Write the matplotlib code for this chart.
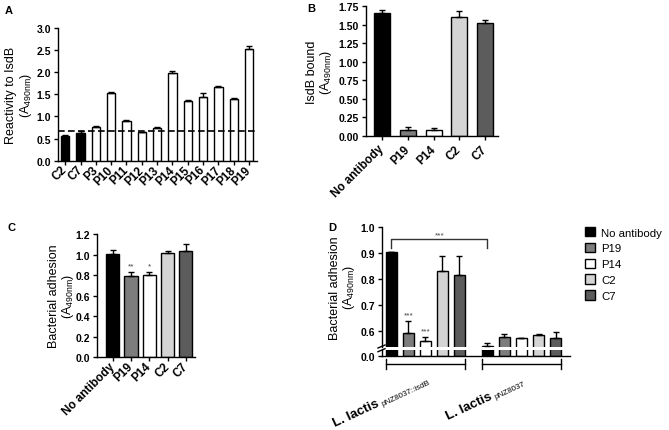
import numpy as np
import matplotlib.pyplot as plt
from matplotlib import transforms
from matplotlib.lines import Line2D

plt.rcParams['font.family'] = ['Liberation Sans', 'DejaVu Sans']
plt.rcParams['mathtext.fontset'] = 'custom'
plt.rcParams['mathtext.rm'] = 'Liberation Sans'
plt.rcParams['mathtext.bf'] = 'Liberation Sans:bold'
plt.rcParams['mathtext.it'] = 'Liberation Sans:italic'

# panel A - reactivity of each clone to IsdB
a_labels = ['C2', 'C7', 'P3', 'P10', 'P11', 'P12', 'P13', 'P14', 'P15', 'P16', 'P17', 'P18', 'P19']
a_values = [0.55, 0.63, 0.76, 1.53, 0.90, 0.64, 0.74, 1.97, 1.34, 1.43, 1.67, 1.39, 2.53]
a_errors = [0.02, 0.03, 0.02, 0.02, 0.01, 0.01, 0.03, 0.05, 0.04, 0.09, 0.02, 0.03, 0.05]
a_cutoff = 0.66

# panels B, C, D share the same antibody order
ab_labels = ['No antibody', 'P19', 'P14', 'C2', 'C7']
ab_colors = ['black', '#7d7d7d', 'white', '#d4d4d4', '#5c5c5c']

b_values = [1.656, 0.08, 0.075, 1.61, 1.525]
b_errors = [0.045, 0.038, 0.025, 0.07, 0.045]

c_values = [1.01, 0.795, 0.80, 1.018, 1.03]
c_errors = [0.037, 0.038, 0.035, 0.016, 0.07]
c_stars = ['', '**', '*', '', '']

d_groups = ['pNZ8037::isdB', 'pNZ8037']
d_isdb = [0.904, 0.594, 0.561, 0.832, 0.815]
d_isdb_err = [0.0, 0.045, 0.017, 0.058, 0.074]
d_isdb_stars = ['', '***', '***', '', '']
d_empty = [0.543, 0.578, 0.571, 0.583, 0.571]
d_empty_err = [0.010, 0.012, 0.002, 0.004, 0.026]

W, H = 669, 431
YLAB = '\n(A$_{\\mathrm{490nm}}$)'


def px_box(left, top, right, bottom):
    return [left / W, 1 - bottom / H, (right - left) / W, (bottom - top) / H]


def style_axis(ax, labelsize=7.5):
    for side in ['top', 'right']:
        ax.spines[side].set_visible(False)
    for side in ['left', 'bottom']:
        ax.spines[side].set_linewidth(1.0)
    ax.tick_params(width=1.0, length=3, labelsize=labelsize, pad=2)


def bold_ticks(ax):
    for lbl in ax.get_xticklabels() + ax.get_yticklabels():
        lbl.set_fontweight('bold')


def draw_bars(ax, x, values, errors, colors, width):
    bars = ax.bar(x, values, width=width, color=colors, edgecolor='black', linewidth=1.0, zorder=2)
    ax.errorbar(x, values, yerr=[np.zeros(len(values)), errors], fmt='none', ecolor='black',
                elinewidth=1.0, capsize=2.5, capthick=1.0, zorder=3)
    return bars


fig = plt.figure(figsize=(W / 100, H / 100), dpi=100)

# ---- A ----
ax_a = fig.add_axes(px_box(58.3, 28.7, 256.7, 161.7))
xa = np.arange(len(a_labels))
draw_bars(ax_a, xa, a_values, a_errors, ['black'] * 2 + ['white'] * 11, 0.55)
ax_a.axhline(a_cutoff, color='black', ls=(0, (4, 2)), lw=1.2, zorder=4)
ax_a.set_xlim(-0.45, 12.5)
ax_a.set_ylim(0, 3.0)
ax_a.set_yticks(np.arange(0, 3.01, 0.5))
ax_a.yaxis.set_major_formatter('{x:.1f}')
ax_a.set_xticks(xa, a_labels, rotation=45, ha='right', va='center', rotation_mode='anchor')
style_axis(ax_a)
ax_a.tick_params(axis='x', labelsize=8.5)
bold_ticks(ax_a)
ax_a.set_ylabel('Reactivity to IsdB' + YLAB, fontsize=9, linespacing=1.05)
ax_a.yaxis.set_label_coords(-0.125, 0.5)

# ---- B ----
ax_b = fig.add_axes(px_box(366, 7.3, 498, 136.7))
xb = np.arange(len(ab_labels))
draw_bars(ax_b, xb, b_values, b_errors, ab_colors, 0.62)
ax_b.set_xlim(-0.62, 4.5)
ax_b.set_ylim(0, 1.75)
ax_b.set_yticks(np.arange(0, 1.76, 0.25))
ax_b.yaxis.set_major_formatter('{x:.2f}')
ax_b.set_xticks(xb, ab_labels, rotation=45, ha='right', va='center', rotation_mode='anchor')
style_axis(ax_b)
ax_b.tick_params(axis='x', labelsize=8.5, pad=5)
bold_ticks(ax_b)
ax_b.set_ylabel('IsdB bound' + YLAB, fontsize=9, linespacing=1.05)
ax_b.yaxis.set_label_coords(-0.24, 0.5)

# ---- C ----
ax_c = fig.add_axes(px_box(96.7, 235, 195, 358.3))
xc = np.arange(len(ab_labels))
draw_bars(ax_c, xc, c_values, c_errors, ab_colors, 0.72)
for xi, v, e, s in zip(xc, c_values, c_errors, c_stars):
    if s:
        ax_c.text(xi, v + e + 0.02, s, ha='center', va='bottom', fontsize=6, color='#444444')
ax_c.set_xlim(-0.87, 4.5)
ax_c.set_ylim(0, 1.2)
ax_c.set_yticks(np.arange(0, 1.21, 0.2))
ax_c.yaxis.set_major_formatter('{x:.1f}')
ax_c.set_xticks(xc, ab_labels, rotation=45, ha='right', va='center', rotation_mode='anchor')
style_axis(ax_c)
ax_c.tick_params(axis='x', labelsize=8.5)
bold_ticks(ax_c)
ax_c.set_ylabel('Bacterial adhesion' + YLAB, fontsize=9, linespacing=1.05)
ax_c.yaxis.set_label_coords(-0.21, 0.5)

# ---- D (broken y axis) ----
ax_dt = fig.add_axes(px_box(381.7, 228.3, 570, 347.5))
ax_db = fig.add_axes(px_box(381.7, 351.2, 570, 356.7))
g1 = np.arange(5)
g2 = np.arange(5) + 5.65
wd = 0.65
bars1 = draw_bars(ax_dt, g1, d_isdb, d_isdb_err, ab_colors, wd)
draw_bars(ax_dt, g2, d_empty, d_empty_err, ab_colors, wd)
ax_db.bar(g1, d_isdb, width=wd, color=ab_colors, edgecolor='black', linewidth=1.0)
ax_db.bar(g2, d_empty, width=wd, color=ab_colors, edgecolor='black', linewidth=1.0)
for xi, v, e, s in zip(g1, d_isdb, d_isdb_err, d_isdb_stars):
    if s:
        ax_dt.text(xi, v + e + 0.008, s, ha='center', va='bottom', fontsize=6, color='#444444')
# comparison bracket between the two no-antibody bars
ax_dt.plot([g1[0], g1[0], g2[0], g2[0]], [0.922, 0.953, 0.953, 0.922], color='#333333', lw=1.0)
ax_dt.text((g1[0] + g2[0]) / 2, 0.956, '***', ha='center', va='bottom', fontsize=6, color='#444444')

for ax in (ax_dt, ax_db):
    ax.set_xlim(-0.56, 10.5)
    style_axis(ax)
    ax.set_xticks([])
ax_dt.spines['bottom'].set_visible(False)
ax_dt.set_ylim(0.54, 1.0)
ax_dt.set_yticks(np.arange(0.6, 1.01, 0.1))
ax_dt.yaxis.set_major_formatter('{x:.1f}')
ax_db.set_ylim(0, 0.02)
ax_db.set_yticks([0])
ax_db.yaxis.set_major_formatter('{x:.1f}')
bold_ticks(ax_dt)
bold_ticks(ax_db)
ax_dt.set_ylabel('Bacterial adhesion' + YLAB, fontsize=9, linespacing=1.05)
ax_dt.yaxis.set_label_coords(-0.13, 0.5)

# break marks on the y axis
for yy in (347.5, 351.2):
    fig.add_artist(Line2D([378 / W, 385 / W], [1 - (yy + 1.5) / H, 1 - (yy - 1.5) / H],
                          color='black', lw=1.0))

# group brackets under the x axis
blend = transforms.blended_transform_factory(ax_db.transData, fig.transFigure)
for grp in (g1, g2):
    x0, x1 = grp[0] - wd / 2, grp[-1] + wd / 2
    ax_db.plot([x0, x1], [1 - 365 / H] * 2, color='black', lw=1.0, transform=blend, clip_on=False)
    for xe in (x0, x1):
        ax_db.plot([xe, xe], [1 - 360 / H, 1 - 370 / H], color='black', lw=1.0,
                   transform=blend, clip_on=False)

# group labels: bold "L. lactis" followed by the smaller plasmid name
renderer = fig.canvas.get_renderer()
tmp = fig.text(0, 0, 'L. lactis', fontsize=9.5, fontweight='bold')
bold_w = tmp.get_window_extent(renderer).width
tmp.remove()
ang = 25.0
ca, sa = np.cos(np.deg2rad(ang)), np.sin(np.deg2rad(ang))
for (sx, sy), name in zip([(335, 427), (448, 420)], d_groups):
    ax_db.text(sx / W, 1 - sy / H, 'L. lactis', fontsize=9.5, fontweight='bold',
               transform=fig.transFigure, rotation=ang, rotation_mode='anchor',
               ha='left', va='baseline', clip_on=False)
    ex = sx + (bold_w + 3) * ca + 1.5 * sa
    ey = sy - (bold_w + 3) * sa + 1.5 * ca
    ax_db.text(ex / W, 1 - ey / H, name, fontsize=5.8, transform=fig.transFigure,
               rotation=ang, rotation_mode='anchor', ha='left', va='baseline', clip_on=False)

fig.legend(handles=list(bars1), labels=ab_labels, loc='upper left',
           bbox_to_anchor=(585 / W, 1 - 228 / H), frameon=False, fontsize=8.2,
           handlelength=0.9, handleheight=0.9, handletextpad=0.5, labelspacing=0.45,
           borderaxespad=0, borderpad=0)

# panel letters
for letter, (px, py) in zip('ABCD', [(8.5, 10.5), (311, 8.5), (11, 228), (332, 228)]):
    fig.text(px / W, 1 - py / H, letter, fontsize=8, fontweight='bold', ha='center', va='center')

fig.savefig('out.png', dpi=100)
